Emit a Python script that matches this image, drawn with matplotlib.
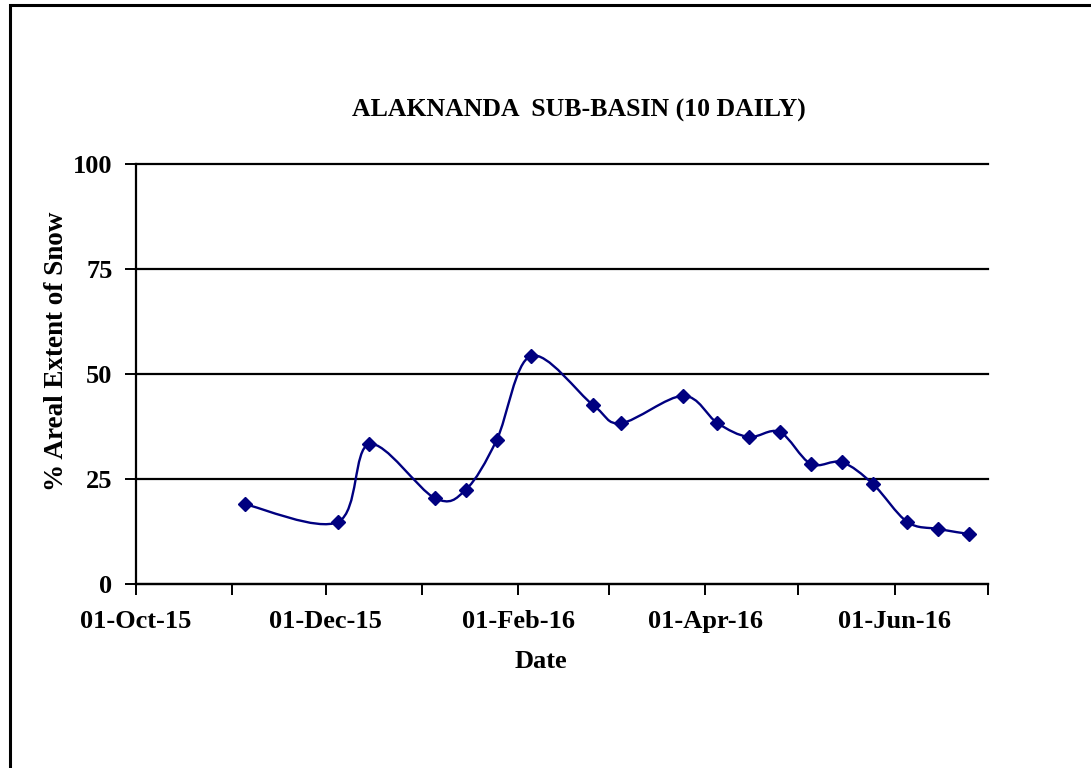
import matplotlib
matplotlib.use("Agg")
import matplotlib.pyplot as plt
import matplotlib.dates as mdates
from matplotlib.path import Path
from matplotlib.patches import PathPatch, Rectangle
import numpy as np
import datetime as dt

# ---- data ----
dates = ["2015-11-05", "2015-12-05", "2015-12-15", "2016-01-05", "2016-01-15",
         "2016-01-25", "2016-02-05", "2016-02-25", "2016-03-05", "2016-03-25",
         "2016-04-05", "2016-04-15", "2016-04-25", "2016-05-05", "2016-05-15",
         "2016-05-25", "2016-06-05", "2016-06-15", "2016-06-25"]
snow = [19.0, 14.8, 33.3, 20.5, 22.4, 34.3, 54.3, 42.6, 38.3, 44.8,
        38.3, 35.0, 36.2, 28.6, 29.0, 23.8, 14.8, 13.1, 11.9]
y_ticks = [0, 25, 50, 75, 100]
title = "ALAKNANDA  SUB-BASIN (10 DAILY)"
xlabel = "Date"
ylabel = "% Areal Extent of Snow"

W, H = 1091, 768
fig = plt.figure(figsize=(W / 100, H / 100), dpi=100)
plt.rcParams['font.family'] = ['Liberation Serif', 'DejaVu Serif']

# outer chart border (only top and left visible)
fig.patches.append(Rectangle((10 / W, -0.1), 1.2, (1 - 5 / H) + 0.1,
                             transform=fig.transFigure, fill=False,
                             edgecolor='black', linewidth=2.2, zorder=0))

ax = fig.add_axes([136 / W, 1 - 584 / H, (988 - 136) / W, (584 - 164) / H])

xd = mdates.date2num([dt.datetime.strptime(d, "%Y-%m-%d") for d in dates])
yd = np.array(snow, dtype=float)

# Excel-style smoothed line (cubic Bezier / Catmull-Rom control points)
n = len(xd)
P = np.column_stack([xd, yd])
verts = [tuple(P[0])]
codes = [Path.MOVETO]
for i in range(n - 1):
    p0 = P[max(i - 1, 0)]
    p1 = P[i]
    p2 = P[i + 1]
    p3 = P[min(i + 2, n - 1)]
    c1 = p1 + (p2 - p0) / 6.0
    c2 = p2 - (p3 - p1) / 6.0
    verts += [tuple(c1), tuple(c2), tuple(p2)]
    codes += [Path.CURVE4] * 3
ax.add_patch(PathPatch(Path(verts, codes), facecolor='none',
                       edgecolor='#000080', linewidth=1.7, zorder=3))
ax.plot(xd, yd, linestyle='none', marker='D', markersize=7.5,
        color='#000080', zorder=4)

# axes
ax.set_xlim(mdates.date2num(dt.datetime(2015, 10, 1)),
            mdates.date2num(dt.datetime(2016, 7, 1)))
ax.set_ylim(0, 100)
ax.set_yticks(y_ticks)
ax.yaxis.grid(True, color='black', linewidth=1.6)
for gl in ax.yaxis.get_gridlines():
    gl.set_clip_on(False)
ax.set_axisbelow(True)
for s in ['top', 'right']:
    ax.spines[s].set_visible(False)
for s in ['left', 'bottom']:
    ax.spines[s].set_linewidth(1.6)

ax.xaxis.set_major_locator(mdates.MonthLocator(bymonth=[10, 12, 2, 4, 6]))
ax.xaxis.set_minor_locator(mdates.MonthLocator())
ax.xaxis.set_major_formatter(mdates.DateFormatter("%d-%b-%y"))
ax.tick_params(axis='both', which='both', direction='out', length=8,
               width=1.4, colors='black')
ax.tick_params(axis='x', which='major', pad=11)
ax.tick_params(axis='y', pad=9)
for lab in ax.get_xticklabels() + ax.get_yticklabels():
    lab.set_fontweight('bold')
    lab.set_fontsize(19)

fig.text(579 / W, 1 - 110 / H, title, ha='center', va='center',
         fontsize=18.5, fontweight='bold')
fig.text(541 / W, 1 - 661 / H, xlabel, ha='center', va='center',
         fontsize=19, fontweight='bold')
fig.text(57 / W, 1 - 351 / H, ylabel, ha='center', va='center',
         rotation=90, fontsize=19.5, fontweight='bold')

fig.savefig("out.png", dpi=100, facecolor='white')
